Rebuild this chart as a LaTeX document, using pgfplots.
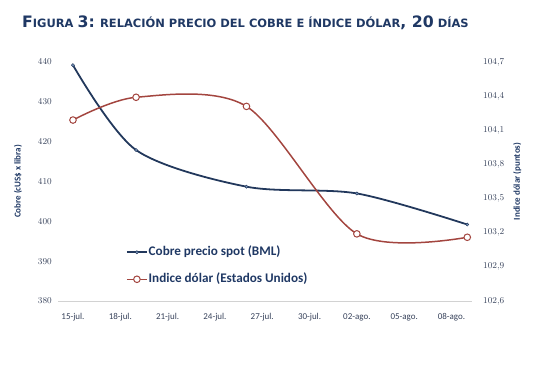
\documentclass[border=0pt]{standalone}
\usepackage{pgfplots}
\pgfplotsset{compat=1.18}
\usepackage{fontspec}
\setmainfont{Carlito}
\newfontfamily\titlefont{DejaVu Sans Bold}
\definecolor{navy}{HTML}{1F3864}
\definecolor{cobre}{HTML}{22385C}
\definecolor{cobremark}{HTML}{7F9BC0}
\definecolor{dolar}{HTML}{A3453F}
\definecolor{ticktxt}{HTML}{36415A}
\newcommand{\BG}[1]{{\fontsize{15.8}{15.8}\selectfont #1}}
\newcommand{\SC}[1]{{\fontsize{11.5}{11.5}\selectfont #1}}

\pgfplotstableread{
x cobre
0 439.2
4 417.9
11 408.7
18 407.0
25 399.2
}\cobretab
\pgfplotstableread{
x dolar
0 104.19
4 104.39
11 104.31
18 103.19
25 103.16
}\dolartab

\begin{document}
\begin{tikzpicture}
\path[use as bounding box] (0,0) rectangle (555bp,368bp);
\node[anchor=base west, text=navy, inner sep=0pt] at (22bp,340bp)
 {\titlefont\BG{F}\SC{IGURA }\BG{3:}\SC{ RELACIÓN PRECIO DEL COBRE E ÍNDICE DÓLAR}\BG{, 20}\SC{ DÍAS}};
\pgfplotsset{
 base/.style={
  at={(58bp,67bp)}, anchor=south west, scale only axis,
  width=414bp, height=239bp,
  xmin=-0.95, xmax=25.3,
  major tick length=0pt,
  xtick={0,3,...,24},
  xticklabels={15-jul.,18-jul.,21-jul.,24-jul.,27-jul.,30-jul.,02-ago.,05-ago.,08-ago.},
  tick label style={text=ticktxt, font=\fontsize{9}{9}\selectfont},
  xticklabel style={anchor=north, inner sep=0pt, yshift=-12bp},
  label style={font=\bfseries\fontsize{9}{9}\selectfont, text=navy},
  clip=false,
 }
}
\begin{axis}[base,
  axis x line*=bottom, axis y line*=left,
  x axis line style={draw=gray!35, line width=0.8pt, -},
  y axis line style={draw=none},
  ymin=380, ymax=440, ytick={380,390,...,440},
  yticklabel style={anchor=east, inner sep=0pt, xshift=-6bp},
  ylabel={Cobre (cUS\$ x libra)},
  ylabel style={at={(axis description cs:-0.0966,0.5)}, anchor=center},
]
\addplot[cobre, line width=1.8pt, smooth, mark=*, mark size=1.6pt,
  mark options={fill=cobremark, draw=cobre, line width=0.5pt}] table[x=x,y=cobre] {\cobretab};
\end{axis}
\begin{axis}[base,
  axis x line=none, axis y line*=right,
  y axis line style={draw=none},
  ymin=102.6, ymax=104.7, ytick={102.6,102.9,...,104.71},
  yticklabel style={anchor=west, inner sep=0pt, xshift=11bp,
    /pgf/number format/.cd, fixed, fixed zerofill, precision=1, use comma},
  ylabel={Indice dólar (puntos)},
  ylabel style={at={(axis description cs:1.109,0.5)}, anchor=center, rotate=0},
  legend style={draw=none, fill=none, at={(axis description cs:0.164,0.234)},
    anchor=north west, inner sep=0pt, font=\bfseries\fontsize{13.2}{13.2}\selectfont,
    text=navy, row sep=13bp,
    nodes={inner sep=1bp, text height=9bp, text depth=3bp}},
  legend cell align=left,
  legend image code/.code={\draw[mark repeat=2,mark phase=2] plot coordinates {(0cm,0cm) (0.35cm,0cm) (0.7cm,0cm)};},
]
\addlegendimage{cobre, line width=1.8pt, mark=*, mark size=1.6pt,
  mark options={fill=cobremark, draw=cobre, line width=0.5pt}}
\addlegendentry{Cobre precio spot (BML)}
\addplot[dolar, line width=1.5pt, smooth, mark=*, mark size=3.3pt,
  mark options={fill=white, draw=dolar, line width=1pt}] table[x=x,y=dolar] {\dolartab};
\addlegendentry{Indice dólar (Estados Unidos)}
\end{axis}
\end{tikzpicture}
\end{document}
